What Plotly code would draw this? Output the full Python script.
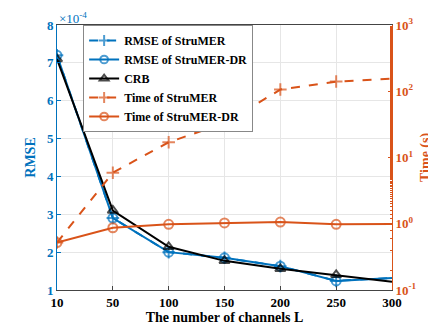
import plotly.graph_objects as go

# 横轴：信道数 L
channels = ['10', '50', '100', '150', '200', '250', '300']

# RMSE（单位 ×1e-4）
rmse_strumer = [7.2, 2.9, 2.0, 1.85, 1.63, 1.24, 1.32]
rmse_strumer_dr = [7.2, 2.9, 2.0, 1.85, 1.63, 1.24, 1.32]
crb = [7.1, 3.1, 2.14, 1.77, 1.56, 1.40, 1.22]

# 运行时间（秒）
time_strumer = [0.52, 5.9, 17, 33, 106, 140, 155]
time_strumer_dr = [0.52, 0.87, 0.98, 1.03, 1.06, 0.98, 0.99]

BLUE = '#0072BD'
ORANGE = '#D95319'
FONT = 'Liberation Serif, Times New Roman, serif'

n = len(channels)
sizes = [9] * (n - 1) + [0]   # 最后一点落在坐标边界上，不画标记

fig = go.Figure()

fig.add_trace(go.Scatter(
    x=channels, y=rmse_strumer, name='RMSE of StruMER', mode='lines+markers',
    line=dict(color=BLUE, width=2, dash='dash'),
    marker=dict(symbol='cross-thin-open', size=sizes, line=dict(color=BLUE, width=2))))
fig.add_trace(go.Scatter(
    x=channels, y=rmse_strumer_dr, name='RMSE of StruMER-DR', mode='lines+markers',
    line=dict(color=BLUE, width=2),
    marker=dict(symbol='circle-open', size=sizes, line=dict(color=BLUE, width=2))))
fig.add_trace(go.Scatter(
    x=channels, y=crb, name='CRB', mode='lines+markers',
    line=dict(color='black', width=2),
    marker=dict(symbol='triangle-up-open', size=sizes, line=dict(color='black', width=2))))
fig.add_trace(go.Scatter(
    x=channels, y=time_strumer, name='Time of StruMER', mode='lines+markers', yaxis='y2',
    line=dict(color=ORANGE, width=2, dash='dash'),
    marker=dict(symbol='cross-thin-open', size=sizes, line=dict(color=ORANGE, width=2))))
fig.add_trace(go.Scatter(
    x=channels, y=time_strumer_dr, name='Time of StruMER-DR', mode='lines+markers', yaxis='y2',
    line=dict(color=ORANGE, width=2),
    marker=dict(symbol='circle-open', size=sizes, line=dict(color=ORANGE, width=2))))

# 页面 body 默认有 8px 边距，图尺寸相应缩小
fig.update_layout(
    width=428, height=319,
    margin=dict(l=49, r=44, t=17, b=37, autoexpand=False),
    plot_bgcolor='white', paper_bgcolor='white',
    font=dict(family=FONT, size=13, weight='bold', color='black'),
    xaxis=dict(
        type='category', range=[0, n - 1],
        title=dict(text='The number of channels L', font=dict(size=14, weight='bold'), standoff=0),
        showgrid=True, gridcolor='#e6e6e6', ticks='inside', ticklen=4,
        showline=True, linecolor='#444', mirror=True, tickfont=dict(size=13, weight='bold')),
    yaxis=dict(
        range=[1, 8], tickvals=[1, 2, 3, 4, 5, 6, 7, 8],
        title=dict(text='RMSE', font=dict(size=14, weight='bold', color=BLUE), standoff=8),
        tickfont=dict(color=BLUE, size=13, weight='bold'),
        showgrid=True, gridcolor='#e6e6e6', ticks='inside', ticklen=4, tickcolor=BLUE,
        showline=True, linecolor=BLUE, zeroline=False),
    yaxis2=dict(
        type='log', range=[-1, 3], overlaying='y', side='right',
        tickvals=[0.1, 1, 10, 100, 1000],
        ticktext=['10<sup>-1</sup>', '10<sup>0</sup>', '10<sup>1</sup>', '10<sup>2</sup>', '10<sup>3</sup>'],
        tickfont=dict(color=ORANGE, size=13, weight='bold'),
        showgrid=False, ticks='inside', ticklen=4, tickcolor=ORANGE,
        minor=dict(ticks='inside', ticklen=2, tickcolor=ORANGE),
        showline=True, linecolor=ORANGE, zeroline=False),
    legend=dict(
        x=0.078, y=1.0, xanchor='left', yanchor='top',
        bgcolor='white', bordercolor='#888', borderwidth=1,
        font=dict(size=12, weight='bold'), tracegroupgap=0, itemwidth=30),
    annotations=[
        dict(text='×10<sup>-4</sup>', xref='paper', yref='paper', x=0, y=1,
             xanchor='left', yanchor='bottom', yshift=-3, showarrow=False,
             font=dict(color=BLUE, size=13, weight='normal')),
        dict(text='Time (s)', xref='paper', yref='paper', x=1.1, y=0.5,
             xanchor='center', yanchor='middle', textangle=-90, showarrow=False,
             font=dict(color=ORANGE, size=14, weight='bold')),
    ],
)

fig.write_html('out.html')
